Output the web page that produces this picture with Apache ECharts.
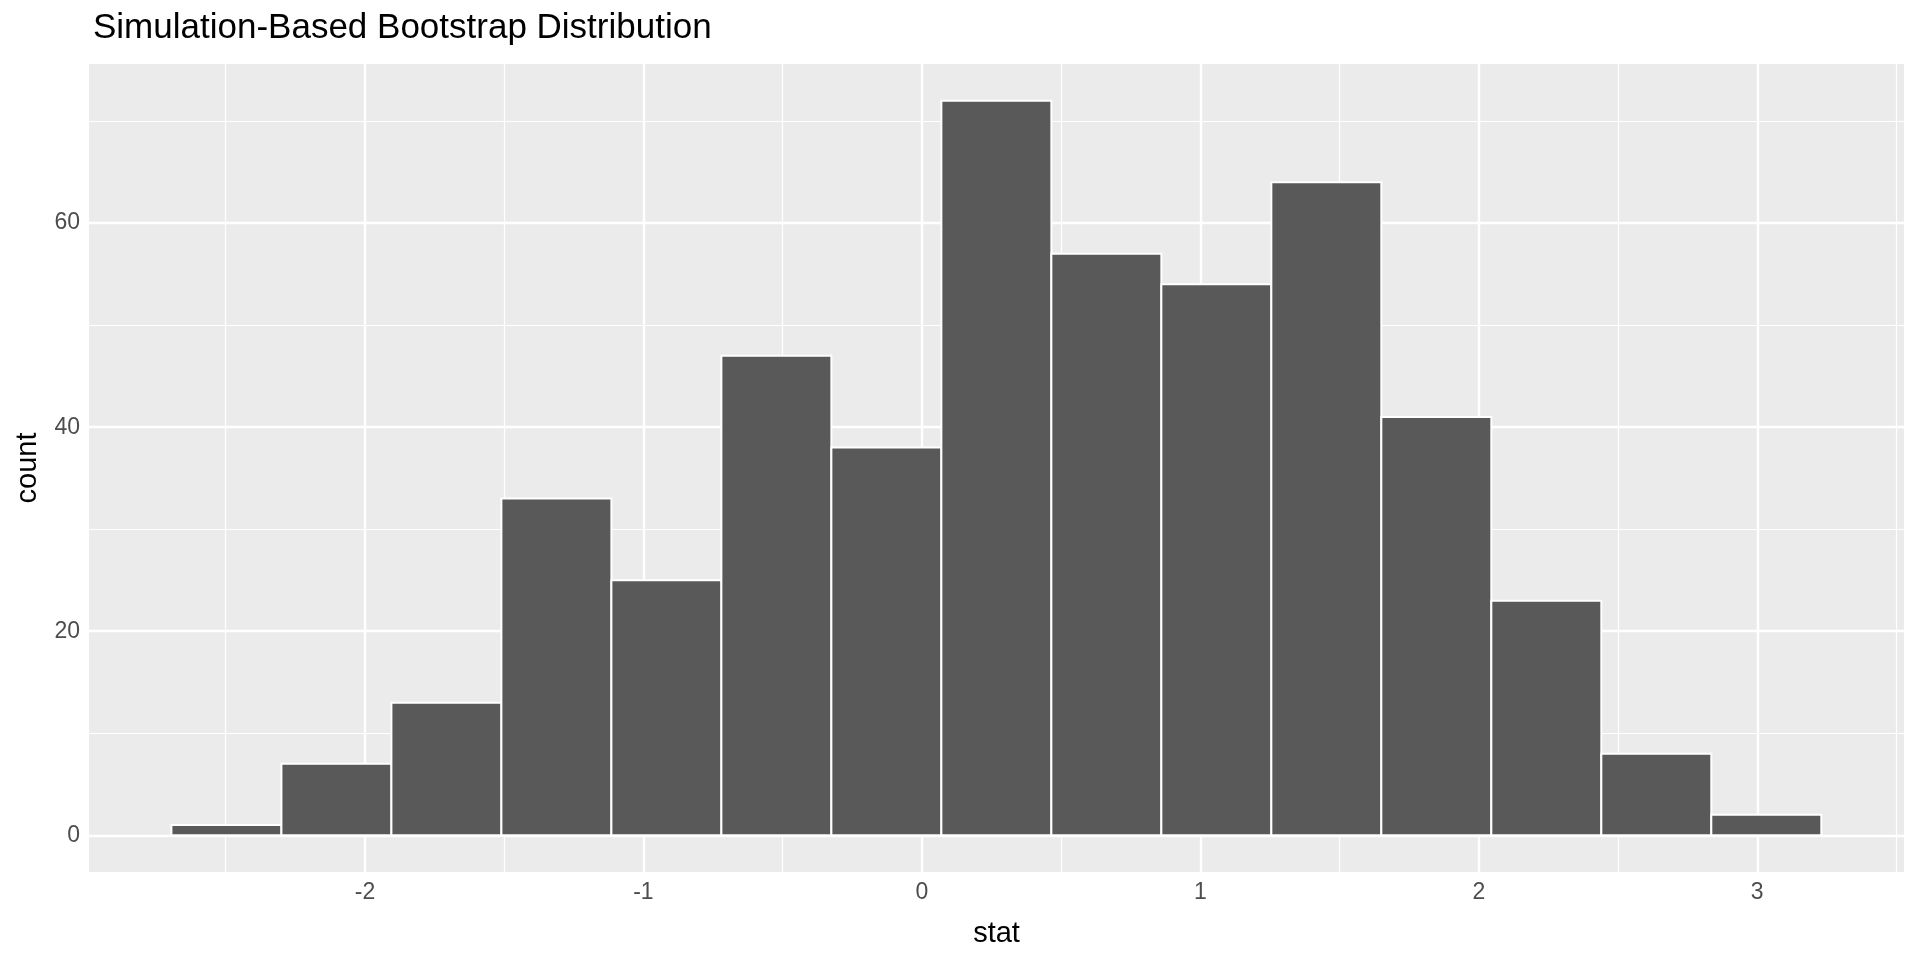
<!DOCTYPE html>
<html>
<head>
<meta charset="utf-8">
<title>Simulation-Based Bootstrap Distribution</title>
<script src="https://cdn.jsdelivr.net/npm/echarts@6/dist/echarts.min.js"></script>
<style>
  html, body { margin: 0; padding: 0; background: #fff; }
  #chart { width: 1920px; height: 960px; }
</style>
</head>
<body>
<div id="chart"></div>
<script>
// histogram bins
const binEdges = [-2.695, -2.300, -1.905, -1.510, -1.115, -0.720, -0.325, 0.070,
                  0.465, 0.860, 1.255, 1.650, 2.045, 2.440, 2.835, 3.230];
const counts = [1, 7, 13, 33, 25, 47, 38, 72, 57, 54, 64, 41, 23, 8, 2];

const xTicks = [-2, -1, 0, 1, 2, 3];
const xMinor = [-2.5, -1.5, -0.5, 0.5, 1.5, 2.5, 3.5];
const yTicks = [0, 20, 40, 60];
const yMinor = [10, 30, 50, 70];

const xRange = [-2.991, 3.527];
const yRange = [-3.6, 75.6];

const FONT = '"Liberation Sans", Arial, Helvetica, sans-serif';

const bins = counts.map(function (c, i) { return [binEdges[i], binEdges[i + 1], c]; });

function gridLines(vals, axis, width) {
    return vals.map(function (v) {
        const o = { lineStyle: { color: '#ffffff', width: width, type: 'solid' } };
        o[axis] = v;
        return o;
    });
}

const chart = echarts.init(document.getElementById('chart'));
chart.setOption({
    animation: false,
    backgroundColor: '#ffffff',
    title: {
        text: 'Simulation-Based Bootstrap Distribution',
        left: 88,
        top: 6,
        textStyle: { fontFamily: FONT, fontSize: 35, fontWeight: 'normal', color: '#000' }
    },
    grid: {
        left: 89, right: 16, top: 64, bottom: 88,
        show: true, backgroundColor: '#EBEBEB', borderWidth: 0
    },
    xAxis: {
        type: 'value',
        min: xRange[0], max: xRange[1],
        name: 'stat',
        nameLocation: 'middle',
        nameGap: 47,
        nameTextStyle: { fontFamily: FONT, fontSize: 29, color: '#000' },
        axisLine: { show: false },
        splitLine: { show: false },
        axisTick: { show: true, customValues: xTicks, length: 6, lineStyle: { color: '#333', width: 2 } },
        axisLabel: { customValues: xTicks, fontFamily: FONT, fontSize: 23, color: '#4D4D4D', margin: 9 }
    },
    yAxis: {
        type: 'value',
        min: yRange[0], max: yRange[1],
        name: 'count',
        nameLocation: 'middle',
        nameGap: 47,
        nameRotate: 90,
        nameTextStyle: { fontFamily: FONT, fontSize: 29, color: '#000' },
        axisLine: { show: false },
        splitLine: { show: false },
        axisTick: { show: true, customValues: yTicks, length: 6, lineStyle: { color: '#333', width: 2 } },
        axisLabel: { customValues: yTicks, fontFamily: FONT, fontSize: 23, color: '#4D4D4D', margin: 9 }
    },
    series: [
        {
            // panel grid lines
            type: 'line',
            data: [],
            z: 1,
            silent: true,
            markLine: {
                silent: true,
                symbol: 'none',
                label: { show: false },
                animation: false,
                data: [].concat(
                    gridLines(xMinor, 'xAxis', 1.2),
                    gridLines(yMinor, 'yAxis', 1.2),
                    gridLines(xTicks, 'xAxis', 2.4),
                    gridLines(yTicks, 'yAxis', 2.4)
                )
            }
        },
        {
            type: 'custom',
            z: 5,
            data: bins,
            encode: { x: [0, 1], y: 2 },
            renderItem: function (params, api) {
                const p0 = api.coord([api.value(0), api.value(2)]);
                const p1 = api.coord([api.value(1), 0]);
                return {
                    type: 'rect',
                    shape: { x: p0[0], y: p0[1], width: p1[0] - p0[0], height: p1[1] - p0[1] },
                    style: { fill: '#595959', stroke: '#ffffff', lineWidth: 2 }
                };
            }
        }
    ]
});

window.addEventListener('resize', function () {
    chart.resize();
});
</script>
</body>
</html>
